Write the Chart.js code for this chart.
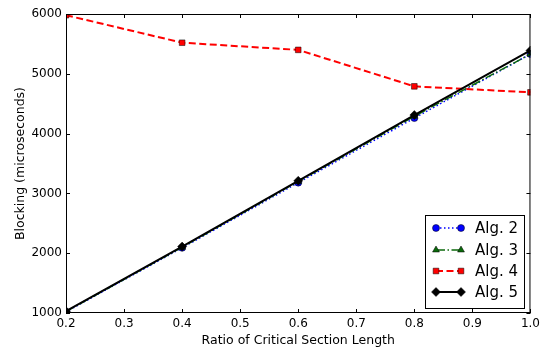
<!DOCTYPE html>
<html>
<head>
<meta charset="utf-8">
<script src="https://cdn.jsdelivr.net/npm/chart.js@4/dist/chart.umd.min.js"></script>
<style>
  html, body { margin: 0; padding: 0; background: #fff; }
  #wrap { width: 544px; height: 351px; }
</style>
</head>
<body>
<div id="wrap"><canvas id="c" width="544" height="351"></canvas></div>
<script>
// Ratio of critical section length (x) and blocking time per algorithm
const ratios = [0.2, 0.4, 0.6, 0.8, 1.0];
const alg2 = [1020, 2090, 3180, 4260, 5330];
const alg3 = [1025, 2100, 3200, 4290, 5330];
const alg4 = [5980, 5520, 5400, 4790, 4690];
const alg5 = [1030, 2110, 3210, 4310, 5390];
const seriesNames = ['Alg. 2', 'Alg. 3', 'Alg. 4', 'Alg. 5'];
const xTicks = [0.2, 0.3, 0.4, 0.5, 0.6, 0.7, 0.8, 0.9, 1.0];
const yTicks = [1000, 2000, 3000, 4000, 5000, 6000];

const FONT = 'DejaVu Sans';

function pts(ys) { return ratios.map((x, i) => ({ x: x, y: ys[i] })); }

const styles = [
  { color: '#0000ff', dash: [1.5, 2.5], width: 1.5, point: 'circle', radius: 3.5 },
  { color: '#0b6a0b', dash: [9, 2.5, 1.5, 2.5], width: 1.5, point: 'triangle', radius: 4 },
  { color: '#ff0000', dash: [7, 3.5], width: 2, point: 'rect', radius: 4 },
  { color: '#000000', dash: [], width: 2, point: 'rectRot', radius: 4.5 }
];
const seriesData = [alg2, alg3, alg4, alg5];

const datasets = seriesData.map((ys, i) => ({
  label: seriesNames[i],
  data: pts(ys),
  borderColor: styles[i].color,
  backgroundColor: styles[i].color,
  borderWidth: styles[i].width,
  borderDash: styles[i].dash,
  pointStyle: styles[i].point,
  pointRadius: styles[i].radius,
  pointBackgroundColor: styles[i].color,
  pointBorderColor: '#000',
  pointBorderWidth: 0.5,
  tension: 0,
  clip: 0,
  order: 4 - i
}));

// Frame with inward ticks on all four sides, plus a boxed legend inside the plot
const framePlugin = {
  id: 'frame',
  afterDatasetsDraw(chart) {
    const { ctx, chartArea: a, scales } = chart;
    ctx.save();
    ctx.strokeStyle = '#000';
    ctx.lineWidth = 1;
    ctx.setLineDash([]);
    ctx.strokeRect(a.left + 0.5, a.top + 0.5, a.right - a.left - 1, a.bottom - a.top - 1);
    ctx.beginPath();
    const L = 4;
    xTicks.forEach(v => {
      const x = Math.round(scales.x.getPixelForValue(v)) + 0.5;
      ctx.moveTo(x, a.bottom); ctx.lineTo(x, a.bottom - L);
      ctx.moveTo(x, a.top); ctx.lineTo(x, a.top + L);
    });
    yTicks.forEach(v => {
      const y = Math.round(scales.y.getPixelForValue(v)) + 0.5;
      ctx.moveTo(a.left, y); ctx.lineTo(a.left + L, y);
      ctx.moveTo(a.right, y); ctx.lineTo(a.right - L, y);
    });
    ctx.stroke();
    ctx.restore();
  },
  afterDraw(chart) {
    const { ctx } = chart;
    const bx = 425.5, by = 215.5, bw = 99, bh = 93;
    ctx.save();
    ctx.fillStyle = '#fff';
    ctx.fillRect(bx, by, bw, bh);
    ctx.strokeStyle = '#000';
    ctx.lineWidth = 1;
    ctx.setLineDash([]);
    ctx.strokeRect(bx, by, bw, bh);
    const rows = [228, 250, 271, 292];
    const x0 = 436, x1 = 461;
    styles.forEach((s, i) => {
      const y = rows[i];
      ctx.beginPath();
      ctx.strokeStyle = s.color;
      ctx.lineWidth = s.width;
      ctx.setLineDash(s.dash);
      ctx.moveTo(x0, y); ctx.lineTo(x1, y);
      ctx.stroke();
      ctx.setLineDash([]);
      ctx.fillStyle = s.color;
      ctx.strokeStyle = '#000';
      ctx.lineWidth = 0.5;
      [x0, x1].forEach(px => {
        Chart.helpers.drawPoint(ctx, { pointStyle: s.point, radius: s.radius, borderWidth: 0.5, rotation: 0 }, px, y);
      });
      ctx.fillStyle = '#000';
      ctx.font = '15px "' + FONT + '"';
      ctx.textBaseline = 'middle';
      ctx.textAlign = 'left';
      ctx.fillText(seriesNames[i], 475, y + 1);
    });
    ctx.restore();
  }
};

new Chart(document.getElementById('c'), {
  type: 'line',
  data: { datasets: datasets },
  plugins: [framePlugin],
  options: {
    responsive: false,
    animation: false,
    layout: { padding: { top: 14, right: 12, left: 0, bottom: 0 } },
    plugins: { legend: { display: false }, tooltip: { enabled: false } },
    scales: {
      x: {
        type: 'linear',
        min: 0.2,
        max: 1.0,
        afterFit(scale) { scale.height = 38; },
        afterBuildTicks(scale) { scale.ticks = xTicks.map(v => ({ value: v })); },
        grid: { display: false, drawTicks: false },
        border: { display: false },
        ticks: {
          padding: 4,
          color: '#000',
          font: { family: FONT, size: 12 },
          maxRotation: 0,
          autoSkip: false,
          callback: v => Number(v).toFixed(1)
        },
        title: {
          display: true,
          text: 'Ratio of Critical Section Length',
          color: '#000',
          font: { family: FONT, size: 12.5 },
          padding: { top: 0, bottom: 3 }
        }
      },
      y: {
        type: 'linear',
        min: 1000,
        max: 6000,
        afterFit(scale) { scale.width = 66; },
        afterBuildTicks(scale) { scale.ticks = yTicks.map(v => ({ value: v })); },
        grid: { display: false, drawTicks: false },
        border: { display: false },
        ticks: {
          padding: 4,
          color: '#000',
          font: { family: FONT, size: 12 },
          callback: v => String(v)
        },
        title: {
          display: true,
          text: 'Blocking (microseconds)',
          color: '#000',
          font: { family: FONT, size: 12.5 },
          padding: 13
        }
      }
    }
  }
});
</script>
</body>
</html>
